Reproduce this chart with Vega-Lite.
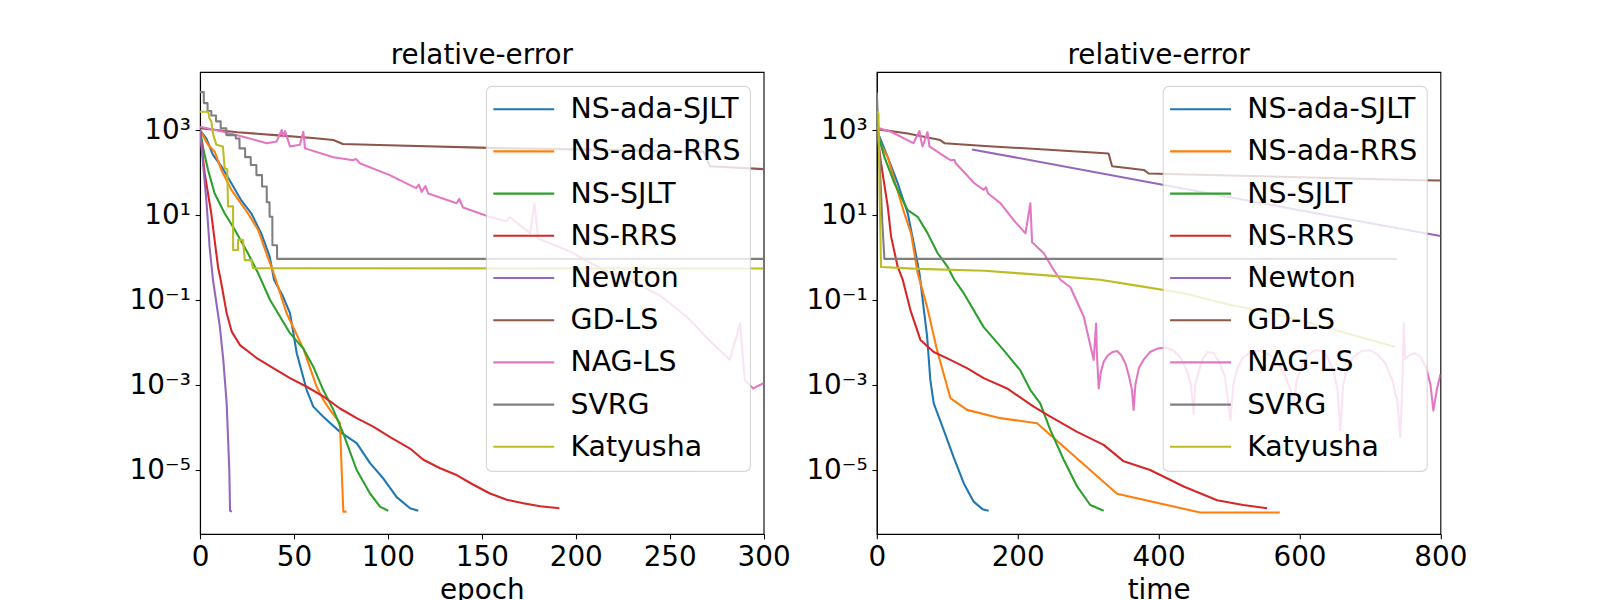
{
  "$schema": "https://vega.github.io/schema/vega-lite/v6.json",
  "autosize": {"type": "none"},
  "padding": {"left": 200, "top": 72, "right": 1400, "bottom": 528},
  "background": "white",
  "config": {
    "font": "DejaVu Sans",
    "view": {"stroke": "black", "strokeWidth": 1.1},
    "axis": {
      "grid": false, "domainColor": "black", "domainWidth": 1.1,
      "tickColor": "black", "tickWidth": 1.1, "tickSize": 4.86,
      "labelFont": "DejaVu Sans", "labelFontSize": 27.8, "labelColor": "black", "labelPadding": 4.86,
      "labelFlush": false, "labelOverlap": false,
      "titleFont": "DejaVu Sans", "titleFontSize": 27.8, "titleFontWeight": "normal", "titleColor": "black", "titlePadding": 5
    },
    "title": {"font": "DejaVu Sans", "fontSize": 27.8, "fontWeight": "normal", "color": "black", "offset": 2, "baseline": "alphabetic", "anchor": "middle"},
    "legend": {
      "title": null, "orient": "top-right", "offset": 14, "padding": 9,
      "fillColor": "rgba(255,255,255,0.8)", "strokeColor": "rgba(204,204,204,0.8)", "strokeWidth": 1.1, "cornerRadius": 5.6,
      "symbolType": "M-1.7,0H7", "symbolSize": 196, "symbolStrokeWidth": 2.08, "symbolOffset": -4,
      "labelFont": "DejaVu Sans", "labelFontSize": 28.4, "labelColor": "black", "labelOffset": 51, "labelLimit": 400,
      "rowPadding": 13.2
    }
  },
  "datasets": {
    "epoch": [
      {"m": "NS-ada-SJLT", "x": 0, "y": 1000}, {"m": "NS-ada-SJLT", "x": 3.4, "y": 630}, {"m": "NS-ada-SJLT", "x": 6.9, "y": 260}, {"m": "NS-ada-SJLT", "x": 11.4, "y": 140}, {"m": "NS-ada-SJLT", "x": 16.7, "y": 56}, {"m": "NS-ada-SJLT", "x": 22, "y": 22}, {"m": "NS-ada-SJLT", "x": 27.3, "y": 11}, {"m": "NS-ada-SJLT", "x": 32.6, "y": 3.7}, {"m": "NS-ada-SJLT", "x": 37.1, "y": 1.05}, {"m": "NS-ada-SJLT", "x": 39.4, "y": 0.3}, {"m": "NS-ada-SJLT", "x": 44, "y": 0.126}, {"m": "NS-ada-SJLT", "x": 47.9, "y": 0.049}, {"m": "NS-ada-SJLT", "x": 51.5, "y": 0.0056}, {"m": "NS-ada-SJLT", "x": 56.8, "y": 0.00076}, {"m": "NS-ada-SJLT", "x": 60.3, "y": 0.00031}, {"m": "NS-ada-SJLT", "x": 65.6, "y": 0.00018}, {"m": "NS-ada-SJLT", "x": 74.5, "y": 0.000079}, {"m": "NS-ada-SJLT", "x": 83.4, "y": 0.000043}, {"m": "NS-ada-SJLT", "x": 90.5, "y": 0.0000145}, {"m": "NS-ada-SJLT", "x": 97.6, "y": 0.0000063}, {"m": "NS-ada-SJLT", "x": 104.7, "y": 0.0000023}, {"m": "NS-ada-SJLT", "x": 111.8, "y": 0.00000126}, {"m": "NS-ada-SJLT", "x": 116.2, "y": 0.0000011},
      {"m": "NS-ada-RRS", "x": 0, "y": 1000}, {"m": "NS-ada-RRS", "x": 4.3, "y": 450}, {"m": "NS-ada-RRS", "x": 7.8, "y": 310}, {"m": "NS-ada-RRS", "x": 11.4, "y": 115}, {"m": "NS-ada-RRS", "x": 16.7, "y": 39}, {"m": "NS-ada-RRS", "x": 25.5, "y": 11}, {"m": "NS-ada-RRS", "x": 30.9, "y": 4.5}, {"m": "NS-ada-RRS", "x": 35.3, "y": 1.26}, {"m": "NS-ada-RRS", "x": 38.9, "y": 0.47}, {"m": "NS-ada-RRS", "x": 46.1, "y": 0.049}, {"m": "NS-ada-RRS", "x": 55, "y": 0.0072}, {"m": "NS-ada-RRS", "x": 62.1, "y": 0.00091}, {"m": "NS-ada-RRS", "x": 65.6, "y": 0.00045}, {"m": "NS-ada-RRS", "x": 69.2, "y": 0.00026}, {"m": "NS-ada-RRS", "x": 74.5, "y": 0.000126}, {"m": "NS-ada-RRS", "x": 75.4, "y": 0.00001}, {"m": "NS-ada-RRS", "x": 76.3, "y": 0.00000105}, {"m": "NS-ada-RRS", "x": 78, "y": 0.00000105},
      {"m": "NS-SJLT", "x": 0, "y": 1000}, {"m": "NS-SJLT", "x": 2, "y": 320}, {"m": "NS-SJLT", "x": 4.3, "y": 115}, {"m": "NS-SJLT", "x": 7.8, "y": 32}, {"m": "NS-SJLT", "x": 13.1, "y": 11}, {"m": "NS-SJLT", "x": 18.5, "y": 4.5}, {"m": "NS-SJLT", "x": 25.5, "y": 1.26}, {"m": "NS-SJLT", "x": 30.9, "y": 0.43}, {"m": "NS-SJLT", "x": 37.3, "y": 0.1}, {"m": "NS-SJLT", "x": 47.9, "y": 0.0166}, {"m": "NS-SJLT", "x": 55, "y": 0.0072}, {"m": "NS-SJLT", "x": 60.3, "y": 0.0027}, {"m": "NS-SJLT", "x": 65.6, "y": 0.00076}, {"m": "NS-SJLT", "x": 71, "y": 0.00026}, {"m": "NS-SJLT", "x": 76.3, "y": 0.000072}, {"m": "NS-SJLT", "x": 83.4, "y": 0.00001}, {"m": "NS-SJLT", "x": 90.5, "y": 0.0000028}, {"m": "NS-SJLT", "x": 95.8, "y": 0.00000138}, {"m": "NS-SJLT", "x": 100.2, "y": 0.0000011},
      {"m": "NS-RRS", "x": 0, "y": 1000}, {"m": "NS-RRS", "x": 2.5, "y": 95}, {"m": "NS-RRS", "x": 6, "y": 11}, {"m": "NS-RRS", "x": 9.6, "y": 0.6}, {"m": "NS-RRS", "x": 11, "y": 0.3}, {"m": "NS-RRS", "x": 14.2, "y": 0.049}, {"m": "NS-RRS", "x": 16.9, "y": 0.018}, {"m": "NS-RRS", "x": 21.3, "y": 0.0087}, {"m": "NS-RRS", "x": 30.2, "y": 0.0043}, {"m": "NS-RRS", "x": 39, "y": 0.0025}, {"m": "NS-RRS", "x": 47.9, "y": 0.00145}, {"m": "NS-RRS", "x": 56.8, "y": 0.00091}, {"m": "NS-RRS", "x": 65.6, "y": 0.00054}, {"m": "NS-RRS", "x": 74.5, "y": 0.00028}, {"m": "NS-RRS", "x": 83.4, "y": 0.000166}, {"m": "NS-RRS", "x": 92.2, "y": 0.000105}, {"m": "NS-RRS", "x": 101, "y": 0.00006}, {"m": "NS-RRS", "x": 111.8, "y": 0.000032}, {"m": "NS-RRS", "x": 118.9, "y": 0.0000174}, {"m": "NS-RRS", "x": 127.8, "y": 0.000011}, {"m": "NS-RRS", "x": 136.6, "y": 0.0000076}, {"m": "NS-RRS", "x": 145.5, "y": 0.0000045}, {"m": "NS-RRS", "x": 154.4, "y": 0.0000028}, {"m": "NS-RRS", "x": 163.3, "y": 0.000002}, {"m": "NS-RRS", "x": 172.1, "y": 0.00000166}, {"m": "NS-RRS", "x": 181, "y": 0.0000014}, {"m": "NS-RRS", "x": 191.3, "y": 0.00000126},
      {"m": "Newton", "x": 0, "y": 1000}, {"m": "Newton", "x": 3.4, "y": 22}, {"m": "Newton", "x": 5.1, "y": 1.8}, {"m": "Newton", "x": 6.9, "y": 0.3}, {"m": "Newton", "x": 10.6, "y": 0.023}, {"m": "Newton", "x": 12.4, "y": 0.0039}, {"m": "Newton", "x": 14.2, "y": 0.00037}, {"m": "Newton", "x": 15.6, "y": 0.00001}, {"m": "Newton", "x": 16, "y": 0.0000011}, {"m": "Newton", "x": 17, "y": 0.00000105},
      {"m": "GD-LS", "x": 0, "y": 1100}, {"m": "GD-LS", "x": 20, "y": 890}, {"m": "GD-LS", "x": 40, "y": 760}, {"m": "GD-LS", "x": 60, "y": 650}, {"m": "GD-LS", "x": 71, "y": 580}, {"m": "GD-LS", "x": 76, "y": 470}, {"m": "GD-LS", "x": 100, "y": 440}, {"m": "GD-LS", "x": 154, "y": 380}, {"m": "GD-LS", "x": 200, "y": 350}, {"m": "GD-LS", "x": 268, "y": 310}, {"m": "GD-LS", "x": 271.5, "y": 140}, {"m": "GD-LS", "x": 300, "y": 120},
      {"m": "NAG-LS", "x": 0, "y": 1200}, {"m": "NAG-LS", "x": 12.4, "y": 910}, {"m": "NAG-LS", "x": 25, "y": 660}, {"m": "NAG-LS", "x": 35.5, "y": 490}, {"m": "NAG-LS", "x": 40.8, "y": 540}, {"m": "NAG-LS", "x": 43.5, "y": 1000}, {"m": "NAG-LS", "x": 44.5, "y": 710}, {"m": "NAG-LS", "x": 45.3, "y": 950}, {"m": "NAG-LS", "x": 47.9, "y": 410}, {"m": "NAG-LS", "x": 53.2, "y": 450}, {"m": "NAG-LS", "x": 55, "y": 910}, {"m": "NAG-LS", "x": 55.9, "y": 370}, {"m": "NAG-LS", "x": 71, "y": 230}, {"m": "NAG-LS", "x": 81.6, "y": 195}, {"m": "NAG-LS", "x": 83, "y": 210}, {"m": "NAG-LS", "x": 85, "y": 166}, {"m": "NAG-LS", "x": 101, "y": 87}, {"m": "NAG-LS", "x": 115, "y": 43}, {"m": "NAG-LS", "x": 116.5, "y": 52}, {"m": "NAG-LS", "x": 118, "y": 35}, {"m": "NAG-LS", "x": 120, "y": 48}, {"m": "NAG-LS", "x": 121.5, "y": 32}, {"m": "NAG-LS", "x": 136.6, "y": 19}, {"m": "NAG-LS", "x": 138, "y": 24}, {"m": "NAG-LS", "x": 140, "y": 15}, {"m": "NAG-LS", "x": 154, "y": 9.1}, {"m": "NAG-LS", "x": 163, "y": 7.1}, {"m": "NAG-LS", "x": 165, "y": 8.9}, {"m": "NAG-LS", "x": 175.7, "y": 3.7}, {"m": "NAG-LS", "x": 178, "y": 19}, {"m": "NAG-LS", "x": 180, "y": 2.8}, {"m": "NAG-LS", "x": 197, "y": 1.38}, {"m": "NAG-LS", "x": 214.7, "y": 0.51}, {"m": "NAG-LS", "x": 232.4, "y": 0.25}, {"m": "NAG-LS", "x": 245, "y": 0.126}, {"m": "NAG-LS", "x": 259, "y": 0.041}, {"m": "NAG-LS", "x": 270, "y": 0.0126}, {"m": "NAG-LS", "x": 282, "y": 0.0039}, {"m": "NAG-LS", "x": 287.5, "y": 0.028}, {"m": "NAG-LS", "x": 290, "y": 0.0013}, {"m": "NAG-LS", "x": 294.5, "y": 0.00083}, {"m": "NAG-LS", "x": 298, "y": 0.001}, {"m": "NAG-LS", "x": 300, "y": 0.0011},
      {"m": "SVRG", "x": 0, "y": 7800}, {"m": "SVRG", "x": 2, "y": 7800}, {"m": "SVRG", "x": 2.05, "y": 4300}, {"m": "SVRG", "x": 4, "y": 4300}, {"m": "SVRG", "x": 4.05, "y": 2800}, {"m": "SVRG", "x": 6, "y": 2800}, {"m": "SVRG", "x": 6.05, "y": 2200}, {"m": "SVRG", "x": 8.5, "y": 2200}, {"m": "SVRG", "x": 8.55, "y": 1600}, {"m": "SVRG", "x": 11, "y": 1600}, {"m": "SVRG", "x": 11.05, "y": 1100}, {"m": "SVRG", "x": 14, "y": 1100}, {"m": "SVRG", "x": 14.05, "y": 760}, {"m": "SVRG", "x": 19, "y": 760}, {"m": "SVRG", "x": 19.05, "y": 630}, {"m": "SVRG", "x": 21, "y": 630}, {"m": "SVRG", "x": 21.05, "y": 370}, {"m": "SVRG", "x": 24, "y": 370}, {"m": "SVRG", "x": 24.05, "y": 230}, {"m": "SVRG", "x": 27, "y": 230}, {"m": "SVRG", "x": 27.05, "y": 150}, {"m": "SVRG", "x": 30, "y": 150}, {"m": "SVRG", "x": 30.05, "y": 87}, {"m": "SVRG", "x": 33, "y": 87}, {"m": "SVRG", "x": 33.05, "y": 47}, {"m": "SVRG", "x": 35.5, "y": 47}, {"m": "SVRG", "x": 35.55, "y": 20}, {"m": "SVRG", "x": 37, "y": 20}, {"m": "SVRG", "x": 37.05, "y": 9.1}, {"m": "SVRG", "x": 38.5, "y": 9.1}, {"m": "SVRG", "x": 38.55, "y": 1.95}, {"m": "SVRG", "x": 41, "y": 1.95}, {"m": "SVRG", "x": 41.05, "y": 0.93}, {"m": "SVRG", "x": 300, "y": 0.93},
      {"m": "Katyusha", "x": 0, "y": 2700}, {"m": "Katyusha", "x": 4.4, "y": 2700}, {"m": "Katyusha", "x": 5, "y": 1900}, {"m": "Katyusha", "x": 6, "y": 1600}, {"m": "Katyusha", "x": 7, "y": 790}, {"m": "Katyusha", "x": 8.7, "y": 450}, {"m": "Katyusha", "x": 12.2, "y": 410}, {"m": "Katyusha", "x": 13.1, "y": 126}, {"m": "Katyusha", "x": 14.5, "y": 120}, {"m": "Katyusha", "x": 14.9, "y": 16}, {"m": "Katyusha", "x": 17.6, "y": 16}, {"m": "Katyusha", "x": 17.65, "y": 1.5}, {"m": "Katyusha", "x": 20.2, "y": 1.5}, {"m": "Katyusha", "x": 20.25, "y": 2.6}, {"m": "Katyusha", "x": 22.9, "y": 2.6}, {"m": "Katyusha", "x": 23.8, "y": 0.87}, {"m": "Katyusha", "x": 27.3, "y": 0.87}, {"m": "Katyusha", "x": 28.2, "y": 0.56}, {"m": "Katyusha", "x": 300, "y": 0.55}
    ],
    "time": [
      {"m": "NS-ada-SJLT", "x": 0, "y": 1000}, {"m": "NS-ada-SJLT", "x": 15.5, "y": 230}, {"m": "NS-ada-SJLT", "x": 29.7, "y": 56}, {"m": "NS-ada-SJLT", "x": 43.9, "y": 11}, {"m": "NS-ada-SJLT", "x": 53.4, "y": 1.8}, {"m": "NS-ada-SJLT", "x": 60.5, "y": 0.43}, {"m": "NS-ada-SJLT", "x": 71.4, "y": 0.014}, {"m": "NS-ada-SJLT", "x": 76, "y": 0.0013}, {"m": "NS-ada-SJLT", "x": 80.8, "y": 0.00037}, {"m": "NS-ada-SJLT", "x": 95, "y": 0.000087}, {"m": "NS-ada-SJLT", "x": 109, "y": 0.00002}, {"m": "NS-ada-SJLT", "x": 123.4, "y": 0.0000049}, {"m": "NS-ada-SJLT", "x": 137.5, "y": 0.0000018}, {"m": "NS-ada-SJLT", "x": 150, "y": 0.0000012}, {"m": "NS-ada-SJLT", "x": 158.8, "y": 0.0000011},
      {"m": "NS-ada-RRS", "x": 0, "y": 1000}, {"m": "NS-ada-RRS", "x": 6, "y": 450}, {"m": "NS-ada-RRS", "x": 15.5, "y": 230}, {"m": "NS-ada-RRS", "x": 25, "y": 66}, {"m": "NS-ada-RRS", "x": 39, "y": 11}, {"m": "NS-ada-RRS", "x": 48.6, "y": 3.7}, {"m": "NS-ada-RRS", "x": 58, "y": 0.43}, {"m": "NS-ada-RRS", "x": 71.4, "y": 0.069}, {"m": "NS-ada-RRS", "x": 85.6, "y": 0.0066}, {"m": "NS-ada-RRS", "x": 104.5, "y": 0.00049}, {"m": "NS-ada-RRS", "x": 128, "y": 0.00026}, {"m": "NS-ada-RRS", "x": 175.4, "y": 0.000166}, {"m": "NS-ada-RRS", "x": 227.5, "y": 0.000126}, {"m": "NS-ada-RRS", "x": 341, "y": 0.00000275}, {"m": "NS-ada-RRS", "x": 459, "y": 0.000001}, {"m": "NS-ada-RRS", "x": 572, "y": 0.000001},
      {"m": "NS-SJLT", "x": 0, "y": 1000}, {"m": "NS-SJLT", "x": 10.8, "y": 230}, {"m": "NS-SJLT", "x": 25, "y": 56}, {"m": "NS-SJLT", "x": 43.9, "y": 13}, {"m": "NS-SJLT", "x": 58, "y": 9.1}, {"m": "NS-SJLT", "x": 72.2, "y": 3.7}, {"m": "NS-SJLT", "x": 86.4, "y": 1.26}, {"m": "NS-SJLT", "x": 100.6, "y": 0.6}, {"m": "NS-SJLT", "x": 110, "y": 0.3}, {"m": "NS-SJLT", "x": 123.4, "y": 0.145}, {"m": "NS-SJLT", "x": 151.7, "y": 0.023}, {"m": "NS-SJLT", "x": 180, "y": 0.0066}, {"m": "NS-SJLT", "x": 203.8, "y": 0.0022}, {"m": "NS-SJLT", "x": 218, "y": 0.00076}, {"m": "NS-SJLT", "x": 232, "y": 0.00037}, {"m": "NS-SJLT", "x": 246.4, "y": 0.000087}, {"m": "NS-SJLT", "x": 265.3, "y": 0.0000174}, {"m": "NS-SJLT", "x": 284.3, "y": 0.0000041}, {"m": "NS-SJLT", "x": 303, "y": 0.0000015}, {"m": "NS-SJLT", "x": 322, "y": 0.0000011},
      {"m": "NS-RRS", "x": 0, "y": 1000}, {"m": "NS-RRS", "x": 6, "y": 166}, {"m": "NS-RRS", "x": 15.5, "y": 16}, {"m": "NS-RRS", "x": 20.3, "y": 3.1}, {"m": "NS-RRS", "x": 29.7, "y": 0.6}, {"m": "NS-RRS", "x": 36.8, "y": 0.3}, {"m": "NS-RRS", "x": 47.7, "y": 0.058}, {"m": "NS-RRS", "x": 61.9, "y": 0.0115}, {"m": "NS-RRS", "x": 80.8, "y": 0.006}, {"m": "NS-RRS", "x": 104.5, "y": 0.0039}, {"m": "NS-RRS", "x": 128, "y": 0.0025}, {"m": "NS-RRS", "x": 151.7, "y": 0.00145}, {"m": "NS-RRS", "x": 185, "y": 0.00083}, {"m": "NS-RRS", "x": 222.7, "y": 0.00031}, {"m": "NS-RRS", "x": 246.4, "y": 0.00018}, {"m": "NS-RRS", "x": 284.3, "y": 0.000079}, {"m": "NS-RRS", "x": 322, "y": 0.000039}, {"m": "NS-RRS", "x": 350.5, "y": 0.000016}, {"m": "NS-RRS", "x": 388, "y": 0.00001}, {"m": "NS-RRS", "x": 435.6, "y": 0.0000041}, {"m": "NS-RRS", "x": 483, "y": 0.00000195}, {"m": "NS-RRS", "x": 520, "y": 0.0000015}, {"m": "NS-RRS", "x": 554, "y": 0.00000126},
      {"m": "Newton", "x": 135, "y": 350}, {"m": "Newton", "x": 400, "y": 54}, {"m": "Newton", "x": 600, "y": 13}, {"m": "Newton", "x": 800, "y": 3.2},
      {"m": "GD-LS", "x": 0, "y": 1050}, {"m": "GD-LS", "x": 44, "y": 830}, {"m": "GD-LS", "x": 90, "y": 580}, {"m": "GD-LS", "x": 96, "y": 490}, {"m": "GD-LS", "x": 153, "y": 420}, {"m": "GD-LS", "x": 250, "y": 340}, {"m": "GD-LS", "x": 329, "y": 280}, {"m": "GD-LS", "x": 334, "y": 140}, {"m": "GD-LS", "x": 379, "y": 115}, {"m": "GD-LS", "x": 386, "y": 95}, {"m": "GD-LS", "x": 500, "y": 85}, {"m": "GD-LS", "x": 771, "y": 66}, {"m": "GD-LS", "x": 800, "y": 65},
      {"m": "NAG-LS", "x": 0, "y": 1150}, {"m": "NAG-LS", "x": 20, "y": 910}, {"m": "NAG-LS", "x": 52, "y": 490}, {"m": "NAG-LS", "x": 60.5, "y": 950}, {"m": "NAG-LS", "x": 63, "y": 560}, {"m": "NAG-LS", "x": 65, "y": 410}, {"m": "NAG-LS", "x": 72, "y": 890}, {"m": "NAG-LS", "x": 74.7, "y": 410}, {"m": "NAG-LS", "x": 90, "y": 280}, {"m": "NAG-LS", "x": 104.5, "y": 195}, {"m": "NAG-LS", "x": 110, "y": 200}, {"m": "NAG-LS", "x": 112, "y": 166}, {"m": "NAG-LS", "x": 138.5, "y": 56}, {"m": "NAG-LS", "x": 151.7, "y": 39}, {"m": "NAG-LS", "x": 155, "y": 45}, {"m": "NAG-LS", "x": 158, "y": 32}, {"m": "NAG-LS", "x": 175.4, "y": 19}, {"m": "NAG-LS", "x": 194.3, "y": 7.6}, {"m": "NAG-LS", "x": 211, "y": 3.7}, {"m": "NAG-LS", "x": 218, "y": 19}, {"m": "NAG-LS", "x": 220.4, "y": 2.3}, {"m": "NAG-LS", "x": 237, "y": 1.26}, {"m": "NAG-LS", "x": 251, "y": 0.51}, {"m": "NAG-LS", "x": 260.6, "y": 0.3}, {"m": "NAG-LS", "x": 274.8, "y": 0.2}, {"m": "NAG-LS", "x": 293.7, "y": 0.041}, {"m": "NAG-LS", "x": 307.9, "y": 0.0039}, {"m": "NAG-LS", "x": 311.3, "y": 0.028}, {"m": "NAG-LS", "x": 312.5, "y": 0.005}, {"m": "NAG-LS", "x": 315, "y": 0.00083}, {"m": "NAG-LS", "x": 318, "y": 0.002}, {"m": "NAG-LS", "x": 322, "y": 0.0035}, {"m": "NAG-LS", "x": 328, "y": 0.005}, {"m": "NAG-LS", "x": 335, "y": 0.006}, {"m": "NAG-LS", "x": 341, "y": 0.0063}, {"m": "NAG-LS", "x": 347, "y": 0.005}, {"m": "NAG-LS", "x": 353, "y": 0.0032}, {"m": "NAG-LS", "x": 358, "y": 0.0016}, {"m": "NAG-LS", "x": 362, "y": 0.00079}, {"m": "NAG-LS", "x": 364.6, "y": 0.00026}, {"m": "NAG-LS", "x": 367, "y": 0.001}, {"m": "NAG-LS", "x": 372, "y": 0.0025}, {"m": "NAG-LS", "x": 379, "y": 0.004}, {"m": "NAG-LS", "x": 388, "y": 0.006}, {"m": "NAG-LS", "x": 398, "y": 0.0072}, {"m": "NAG-LS", "x": 410, "y": 0.0076}, {"m": "NAG-LS", "x": 422, "y": 0.0063}, {"m": "NAG-LS", "x": 432, "y": 0.0042}, {"m": "NAG-LS", "x": 440, "y": 0.0022}, {"m": "NAG-LS", "x": 446, "y": 0.001}, {"m": "NAG-LS", "x": 449.8, "y": 0.00021}, {"m": "NAG-LS", "x": 452, "y": 0.001}, {"m": "NAG-LS", "x": 455, "y": 0.0016}, {"m": "NAG-LS", "x": 462, "y": 0.004}, {"m": "NAG-LS", "x": 470, "y": 0.006}, {"m": "NAG-LS", "x": 478, "y": 0.0056}, {"m": "NAG-LS", "x": 486, "y": 0.0035}, {"m": "NAG-LS", "x": 494, "y": 0.0016}, {"m": "NAG-LS", "x": 502, "y": 0.00015}, {"m": "NAG-LS", "x": 506, "y": 0.001}, {"m": "NAG-LS", "x": 512, "y": 0.0025}, {"m": "NAG-LS", "x": 520, "y": 0.0045}, {"m": "NAG-LS", "x": 532, "y": 0.0063}, {"m": "NAG-LS", "x": 545, "y": 0.0063}, {"m": "NAG-LS", "x": 558, "y": 0.005}, {"m": "NAG-LS", "x": 570, "y": 0.0032}, {"m": "NAG-LS", "x": 580, "y": 0.0016}, {"m": "NAG-LS", "x": 587, "y": 0.00079}, {"m": "NAG-LS", "x": 591.8, "y": 0.00037}, {"m": "NAG-LS", "x": 596, "y": 0.00126}, {"m": "NAG-LS", "x": 603, "y": 0.0028}, {"m": "NAG-LS", "x": 612, "y": 0.005}, {"m": "NAG-LS", "x": 622, "y": 0.0066}, {"m": "NAG-LS", "x": 632, "y": 0.0063}, {"m": "NAG-LS", "x": 640, "y": 0.0045}, {"m": "NAG-LS", "x": 648, "y": 0.0022}, {"m": "NAG-LS", "x": 654, "y": 0.00079}, {"m": "NAG-LS", "x": 658, "y": 0.000087}, {"m": "NAG-LS", "x": 662, "y": 0.001}, {"m": "NAG-LS", "x": 668, "y": 0.0025}, {"m": "NAG-LS", "x": 676, "y": 0.0045}, {"m": "NAG-LS", "x": 688, "y": 0.0063}, {"m": "NAG-LS", "x": 700, "y": 0.0066}, {"m": "NAG-LS", "x": 712, "y": 0.005}, {"m": "NAG-LS", "x": 722, "y": 0.0032}, {"m": "NAG-LS", "x": 732, "y": 0.00126}, {"m": "NAG-LS", "x": 739, "y": 0.0004}, {"m": "NAG-LS", "x": 743, "y": 0.00006}, {"m": "NAG-LS", "x": 746, "y": 0.001}, {"m": "NAG-LS", "x": 748, "y": 0.028}, {"m": "NAG-LS", "x": 750, "y": 0.004}, {"m": "NAG-LS", "x": 756, "y": 0.005}, {"m": "NAG-LS", "x": 764, "y": 0.0056}, {"m": "NAG-LS", "x": 772, "y": 0.0045}, {"m": "NAG-LS", "x": 780, "y": 0.0025}, {"m": "NAG-LS", "x": 786, "y": 0.001}, {"m": "NAG-LS", "x": 790, "y": 0.00025}, {"m": "NAG-LS", "x": 795, "y": 0.00079}, {"m": "NAG-LS", "x": 800, "y": 0.0018},
      {"m": "SVRG", "x": 0, "y": 7600}, {"m": "SVRG", "x": 4, "y": 200}, {"m": "SVRG", "x": 8, "y": 6}, {"m": "SVRG", "x": 10.8, "y": 0.93}, {"m": "SVRG", "x": 738, "y": 0.93},
      {"m": "Katyusha", "x": 0, "y": 2700}, {"m": "Katyusha", "x": 2.3, "y": 2450}, {"m": "Katyusha", "x": 4, "y": 30}, {"m": "Katyusha", "x": 6, "y": 0.6}, {"m": "Katyusha", "x": 60, "y": 0.54}, {"m": "Katyusha", "x": 153, "y": 0.49}, {"m": "Katyusha", "x": 199, "y": 0.43}, {"m": "Katyusha", "x": 260, "y": 0.36}, {"m": "Katyusha", "x": 317, "y": 0.3}, {"m": "Katyusha", "x": 360, "y": 0.23}, {"m": "Katyusha", "x": 436, "y": 0.145}, {"m": "Katyusha", "x": 502, "y": 0.076}, {"m": "Katyusha", "x": 559, "y": 0.05}, {"m": "Katyusha", "x": 644, "y": 0.021}, {"m": "Katyusha", "x": 735, "y": 0.0079}
    ]
  },
  "spacing": 112.8,
  "bounds": "flush",
  "resolve": {"legend": {"color": "independent"}},
  "hconcat": [
    {
      "width": 563.6, "height": 462,
      "title": "relative-error",
      "data": {"name": "epoch"},
      "mark": {"type": "line", "strokeWidth": 2.08, "strokeJoin": "round", "clip": true},
      "encoding": {
        "x": {"field": "x", "type": "quantitative", "scale": {"domain": [0, 300], "nice": false, "zero": false}, "axis": {"title": "epoch", "values": [0, 50, 100, 150, 200, 250, 300]}},
        "y": {"field": "y", "type": "quantitative", "scale": {"type": "log", "domain": [3.12e-7, 23200], "nice": false}, "axis": {"title": null, "values": [0.00001, 0.001, 0.1, 10, 1000], "labelExpr": "datum.value < 0.0001 ? '10⁻⁵' : datum.value < 0.01 ? '10⁻³' : datum.value < 1 ? '10⁻¹' : datum.value < 100 ? '10¹' : '10³'"}},
        "color": {"field": "m", "type": "nominal", "scale": {"domain": ["NS-ada-SJLT", "NS-ada-RRS", "NS-SJLT", "NS-RRS", "Newton", "GD-LS", "NAG-LS", "SVRG", "Katyusha"], "range": ["#1f77b4", "#ff7f0e", "#2ca02c", "#d62728", "#9467bd", "#8c564b", "#e377c2", "#7f7f7f", "#bcbd22"]}}
      }
    },
    {
      "width": 563.6, "height": 462,
      "title": "relative-error",
      "data": {"name": "time"},
      "mark": {"type": "line", "strokeWidth": 2.08, "strokeJoin": "round", "clip": true},
      "encoding": {
        "x": {"field": "x", "type": "quantitative", "scale": {"domain": [0, 800], "nice": false, "zero": false}, "axis": {"title": "time", "values": [0, 200, 400, 600, 800]}},
        "y": {"field": "y", "type": "quantitative", "scale": {"type": "log", "domain": [3.12e-7, 23200], "nice": false}, "axis": {"title": null, "values": [0.00001, 0.001, 0.1, 10, 1000], "labelExpr": "datum.value < 0.0001 ? '10⁻⁵' : datum.value < 0.01 ? '10⁻³' : datum.value < 1 ? '10⁻¹' : datum.value < 100 ? '10¹' : '10³'"}},
        "color": {"field": "m", "type": "nominal", "scale": {"domain": ["NS-ada-SJLT", "NS-ada-RRS", "NS-SJLT", "NS-RRS", "Newton", "GD-LS", "NAG-LS", "SVRG", "Katyusha"], "range": ["#1f77b4", "#ff7f0e", "#2ca02c", "#d62728", "#9467bd", "#8c564b", "#e377c2", "#7f7f7f", "#bcbd22"]}}
      }
    }
  ]
}
